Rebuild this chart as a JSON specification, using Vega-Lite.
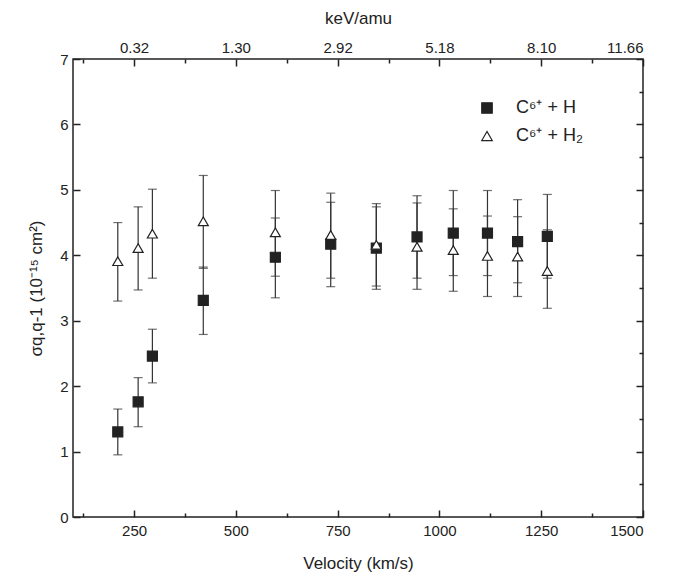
{
  "$schema": "https://vega.github.io/schema/vega-lite/v6.json",
  "width": 570,
  "height": 458,
  "autosize": {"type": "none"},
  "padding": {"left": 73, "top": 59, "right": 47, "bottom": 70},
  "background": "white",
  "config": {
    "font": "Liberation Sans",
    "view": {"stroke": "#222", "strokeWidth": 1.5},
    "axis": {"grid": false, "domain": false, "labelFont": "Liberation Sans", "titleFont": "Liberation Sans", "labelFontSize": 15, "titleFontSize": 17, "titleFontWeight": "normal", "labelColor": "#222", "titleColor": "#222", "tickColor": "#222", "tickWidth": 1.5}
  },
  "data": {
    "values": [
      {"series": "C⁶⁺ + H", "v": 210, "s": 1.30, "lo": 0.95, "hi": 1.65},
      {"series": "C⁶⁺ + H", "v": 260, "s": 1.76, "lo": 1.38, "hi": 2.13},
      {"series": "C⁶⁺ + H", "v": 295, "s": 2.46, "lo": 2.05, "hi": 2.87},
      {"series": "C⁶⁺ + H", "v": 420, "s": 3.31, "lo": 2.79, "hi": 3.82},
      {"series": "C⁶⁺ + H", "v": 597, "s": 3.97, "lo": 3.35, "hi": 4.57},
      {"series": "C⁶⁺ + H", "v": 733, "s": 4.17, "lo": 3.52, "hi": 4.81},
      {"series": "C⁶⁺ + H", "v": 845, "s": 4.11, "lo": 3.48, "hi": 4.74},
      {"series": "C⁶⁺ + H", "v": 945, "s": 4.28, "lo": 3.65, "hi": 4.91},
      {"series": "C⁶⁺ + H", "v": 1034, "s": 4.34, "lo": 3.69, "hi": 4.99},
      {"series": "C⁶⁺ + H", "v": 1118, "s": 4.34, "lo": 3.69, "hi": 4.99},
      {"series": "C⁶⁺ + H", "v": 1192, "s": 4.21, "lo": 3.58, "hi": 4.85},
      {"series": "C⁶⁺ + H", "v": 1265, "s": 4.29, "lo": 3.65, "hi": 4.93},
      {"series": "C⁶⁺ + H₂", "v": 210, "s": 3.91, "lo": 3.30, "hi": 4.50},
      {"series": "C⁶⁺ + H₂", "v": 260, "s": 4.11, "lo": 3.47, "hi": 4.74},
      {"series": "C⁶⁺ + H₂", "v": 295, "s": 4.33, "lo": 3.65, "hi": 5.01},
      {"series": "C⁶⁺ + H₂", "v": 420, "s": 4.52, "lo": 3.80, "hi": 5.22},
      {"series": "C⁶⁺ + H₂", "v": 597, "s": 4.35, "lo": 3.68, "hi": 4.99},
      {"series": "C⁶⁺ + H₂", "v": 733, "s": 4.31, "lo": 3.65, "hi": 4.95},
      {"series": "C⁶⁺ + H₂", "v": 845, "s": 4.16, "lo": 3.53, "hi": 4.79},
      {"series": "C⁶⁺ + H₂", "v": 945, "s": 4.13, "lo": 3.48, "hi": 4.80},
      {"series": "C⁶⁺ + H₂", "v": 1034, "s": 4.08, "lo": 3.45, "hi": 4.71},
      {"series": "C⁶⁺ + H₂", "v": 1118, "s": 3.99, "lo": 3.37, "hi": 4.60},
      {"series": "C⁶⁺ + H₂", "v": 1192, "s": 3.98, "lo": 3.37, "hi": 4.59},
      {"series": "C⁶⁺ + H₂", "v": 1265, "s": 3.76, "lo": 3.19, "hi": 4.39}
    ]
  },
  "resolve": {"axis": {"x": "independent", "y": "independent"}},
  "layer": [
    {
      "mark": {"type": "rule", "color": "#333", "strokeWidth": 1.2},
      "encoding": {
        "x": {"field": "v", "type": "quantitative", "scale": {"domain": [100, 1500], "nice": false, "zero": false},
          "axis": {"orient": "bottom", "title": "Velocity (km/s)", "format": "d", "values": [125, 250, 375, 500, 625, 750, 875, 1000, 1125, 1250, 1375, 1500],
            "labelExpr": "datum.value % 250 === 0 ? datum.label : ''",
            "tickSize": {"condition": {"test": "datum.value % 250 === 0", "value": -7}, "value": -4},
            "labelPadding": 13, "titlePadding": 17}},
        "y": {"field": "lo", "type": "quantitative", "scale": {"domain": [0, 7], "nice": false},
          "axis": {"orient": "left", "title": "σq,q-1 (10⁻¹⁵ cm²)", "format": "d", "values": [0, 0.5, 1, 1.5, 2, 2.5, 3, 3.5, 4, 4.5, 5, 5.5, 6, 6.5, 7],
            "labelExpr": "datum.value % 1 === 0 ? format(datum.value, 'd') : ''",
            "tickSize": {"condition": {"test": "datum.value % 1 === 0", "value": -7}, "value": -4},
            "labelPadding": 12, "titlePadding": 14}},
        "y2": {"field": "hi"}
      }
    },
    {
      "transform": [{"fold": ["lo", "hi"], "as": ["end", "val"]}],
      "mark": {"type": "tick", "orient": "horizontal", "color": "#333", "size": 9, "thickness": 1.2},
      "encoding": {
        "x": {"field": "v", "type": "quantitative",
          "axis": {"orient": "top", "title": "keV/amu", "values": [125, 250, 375, 500, 625, 750, 875, 1000, 1125, 1250, 1375, 1500],
            "labelExpr": "datum.value == 250 ? '0.32' : datum.value == 500 ? '1.30' : datum.value == 750 ? '2.92' : datum.value == 1000 ? '5.18' : datum.value == 1250 ? '8.10' : datum.value == 1500 ? '11.66' : ''",
            "tickSize": {"condition": {"test": "datum.value % 250 === 0", "value": -7}, "value": -4},
            "labelPadding": 11, "titlePadding": 13}},
        "y": {"field": "val", "type": "quantitative",
          "axis": {"orient": "right", "title": null, "labels": false, "values": [0, 0.5, 1, 1.5, 2, 2.5, 3, 3.5, 4, 4.5, 5, 5.5, 6, 6.5, 7],
            "tickSize": {"condition": {"test": "datum.value % 1 === 0", "value": -7}, "value": -4}}}
      }
    },
    {
      "mark": {"type": "point", "filled": false, "stroke": "#222", "strokeWidth": 1.2, "opacity": 1},
      "encoding": {
        "x": {"field": "v", "type": "quantitative", "axis": null},
        "y": {"field": "s", "type": "quantitative", "axis": null},
        "shape": {"field": "series", "type": "nominal", "scale": {"domain": ["C⁶⁺ + H", "C⁶⁺ + H₂"], "range": ["square", "triangle-up"]},
          "legend": {"orient": "none", "legendX": 405, "legendY": 40, "title": null, "labelFontSize": 18, "labelFont": "Liberation Sans", "labelColor": "#222", "rowPadding": 10, "symbolSize": 110, "symbolStrokeWidth": 1.2, "labelOffset": 20}},
        "fill": {"field": "series", "type": "nominal", "scale": {"domain": ["C⁶⁺ + H", "C⁶⁺ + H₂"], "range": ["#222", "white"]}, "legend": null},
        "size": {"value": 100}
      }
    }
  ]
}
